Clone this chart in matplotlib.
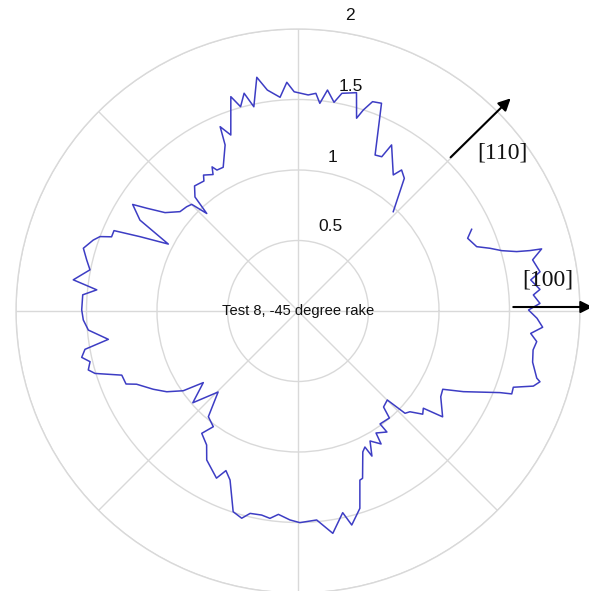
import numpy as np
import matplotlib
matplotlib.use("Agg")
import matplotlib.pyplot as plt

# Trace: direction (degrees, counter-clockwise from [100]) and magnitude
theta_deg = [25.2, 23.2, 19.8, 18.1, 16.5, 15.2, 14.6, 14.3, 12.3, 9.2,
             7.6, 5.1, 3.9, 1.8, 0.25, -1.75, -3.8, -5.5, -7.3, -9.4,
             -12.3, -15.7, -16.3, -17.7, -19.5, -21.2, -22.0, -26.0, -28.4, -31.0,
             -36.2, -37.8, -39.6, -42.0, -43.7, -44.9, -48.3, -49.5, -54.0, -53.7,
             -57.4, -58.0, -61.0, -63.0, -63.8, -65.3, -68.9, -69.9, -72.6, -75.9,
             -77.5, -81.1, -84.9, -89.5, -92.2, -95.5, -97.7, -100.1, -103.3, -105.2,
             -107.9, -111.9, -114.3, -116.0, -121.5, -124.3, -128.2, -126.2, -130.3, -134.6,
             -138.9, -142.9, -145.2, -148.4, -151.6, -155.6, -157.0, -160.0, -162.9, -164.3,
             -166.3, -167.9, -169.8, -171.5, -174.8, -177.6, -180.3, -184.3, -186.0, -187.9,
             -191.2, -193.6, -196.3, -199.1, -200.6, -201.7, -203.6, -205.2, -207.3, -209.9,
             -212.8, -214.2, -216.5, -220.1, -223.1, -225.1, -226.9, -227.9, -230.4, -234.1,
             -235.2, -238.1, -239.2, -240.1, -242.5, -246.3, -247.1, -249.1, -252.6, -254.3,
             -256.1, -257.8, -260.0, -262.1, -265.2, -267.2, -269.0, -272.7, -274.7, -276.0,
             -277.6, -279.8, -281.4, -285.0, -286.9, -288.0, -289.6, -291.9, -296.3, -298.5,
             -299.4, -305.0, -306.3, -308.7, -313.8]
radius = [1.361, 1.309, 1.347, 1.432, 1.507, 1.607, 1.700, 1.783, 1.703, 1.739,
          1.665, 1.723, 1.673, 1.717, 1.635, 1.696, 1.739, 1.658, 1.707, 1.690,
          1.703, 1.759, 1.788, 1.752, 1.620, 1.626, 1.545, 1.305, 1.167, 1.181,
          1.271, 1.125, 1.148, 1.068, 1.050, 0.894, 0.912, 0.998, 0.990, 1.065,
          1.027, 1.112, 1.054, 1.155, 1.075, 1.100, 1.272, 1.277, 1.467, 1.565,
          1.465, 1.596, 1.488, 1.501, 1.483, 1.449, 1.484, 1.470, 1.475, 1.523,
          1.496, 1.292, 1.242, 1.319, 1.239, 1.150, 1.104, 1.017, 0.983, 0.807,
          0.990, 0.842, 0.991, 1.093, 1.167, 1.257, 1.325, 1.330, 1.506, 1.545,
          1.518, 1.569, 1.535, 1.360, 1.493, 1.524, 1.534, 1.531, 1.435, 1.609,
          1.504, 1.542, 1.586, 1.537, 1.500, 1.423, 1.424, 1.238, 1.035, 1.293,
          1.395, 1.297, 1.173, 1.094, 1.082, 1.068, 0.947, 1.090, 1.151, 1.138,
          1.174, 1.140, 1.190, 1.153, 1.149, 1.286, 1.419, 1.336, 1.593, 1.505,
          1.591, 1.482, 1.683, 1.582, 1.521, 1.624, 1.555, 1.534, 1.549, 1.481,
          1.581, 1.502, 1.575, 1.603, 1.429, 1.499, 1.576, 1.588, 1.234, 1.245,
          1.352, 1.178, 1.241, 1.206, 0.976]

ring_values = [0.5, 1.0, 1.5, 2.0]
ring_labels = ["0.5", "1", "1.5", "2"]
ring_label_pos = [(68.8, 0.641), (77.3, 1.117), (76.7, 1.635), (80.0, 2.13)]

title_text = "Test 8, -45 degree rake"

# crystal directions: (label, tail (deg, r), tip (deg, r), label (deg, r))
directions = [
    ("[110]", (45.2, 1.536), (45.0, 2.133), (37.7, 1.835)),
    ("[100]", (1.06, 1.527), (0.78, 2.09), (7.1, 1.785)),
]

grid_color = "#d9d9d9"

fig = plt.figure(figsize=(5.89, 5.91), dpi=100)
ax = fig.add_axes([0.02716, -0.00338, 0.95756, 0.95431], projection="polar")
ax.set_theta_zero_location("E")
ax.set_theta_direction(1)
ax.set_ylim(0, 2)
ax.set_rgrids(ring_values, labels=[""] * len(ring_values))
ax.set_thetagrids(np.arange(0, 360, 45), labels=[""] * 8)
ax.grid(True, color=grid_color, linewidth=1.0)
ax.spines["polar"].set_color(grid_color)
ax.spines["polar"].set_linewidth(1.0)
ax.tick_params(length=0)

ax.plot(np.deg2rad(theta_deg), radius, color="#3d3dc4", linewidth=1.1, zorder=3)

for (t, r), lab in zip(ring_label_pos, ring_labels):
    ax.text(np.deg2rad(t), r, lab, ha="center", va="center",
            fontsize=12.5, family="Liberation Sans", color="#111111", zorder=4)

ax.text(0, 0, title_text, ha="center", va="center", fontsize=10.6,
        family="Liberation Sans", color="#111111", zorder=4)

for lab, tail, tip, lpos in directions:
    ax.annotate("", xy=(np.deg2rad(tip[0]), tip[1]),
                xytext=(np.deg2rad(tail[0]), tail[1]),
                xycoords="data", textcoords="data", annotation_clip=False,
                arrowprops=dict(arrowstyle="-|>", color="black", lw=1.5,
                                mutation_scale=18, shrinkA=0, shrinkB=0),
                zorder=5)
    ax.text(np.deg2rad(lpos[0]), lpos[1], lab, ha="center", va="center",
            fontsize=17, family="Liberation Serif", color="#111111",
            clip_on=False, zorder=5)

fig.savefig("out.png", dpi=100)
